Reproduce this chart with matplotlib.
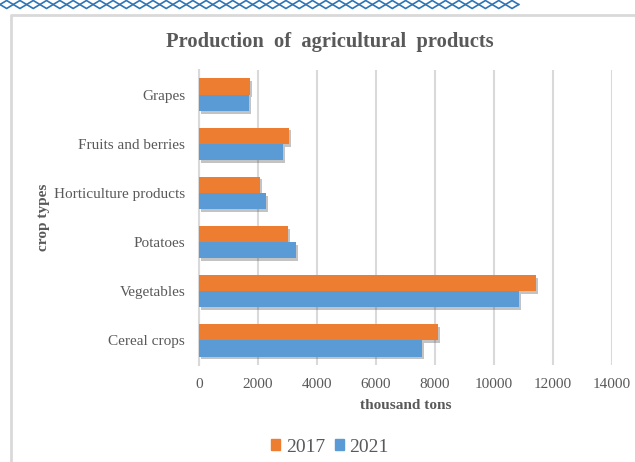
import numpy as np
import matplotlib
matplotlib.use('Agg')
import matplotlib.pyplot as plt
from matplotlib.patches import Patch
import matplotlib.patheffects as pe

# Data
crops = ['Cereal crops', 'Vegetables', 'Potatoes', 'Horticulture products',
         'Fruits and berries', 'Grapes']
y2017 = [8090, 11420, 3010, 2080, 3060, 1730]
y2021 = [7550, 10850, 3290, 2260, 2850, 1690]
xticks = [0, 2000, 4000, 6000, 8000, 10000, 12000, 14000]

plt.rcParams['font.family'] = ['Liberation Serif', 'DejaVu Serif']
text_col = '#595959'
grid_col = '#D9D9D9'
c2017 = '#ED7D31'
c2021 = '#5B9BD5'

fig = plt.figure(figsize=(6.35, 4.62), dpi=100)

# decoration: page border + diamond strip at the top
deco = fig.add_axes([0, 0, 1, 1])
deco.set_xlim(0, 635)
deco.set_ylim(462, 0)
deco.axis('off')
w = 13.3
n = 39
xs = np.arange(0, n * w + 0.1, w / 2)
top = np.where(np.arange(len(xs)) % 2 == 0, 4.5, 0.5)
bot = np.where(np.arange(len(xs)) % 2 == 0, 4.5, 8.5)
deco.plot(xs, top, color='#2E75B6', lw=1.2)
deco.plot(xs, bot, color='#2E75B6', lw=1.2)
deco.plot([11, 11, 635], [462, 15, 15], color=grid_col, lw=2)

ax = fig.add_axes([199 / 635, 97 / 462, 413 / 635, 295 / 462])
pos = np.arange(len(crops))
h = 0.33
shadow = [pe.SimplePatchShadow(offset=(1.5, -2), shadow_rgbFace='#555555', alpha=0.35), pe.Normal()]
b1 = ax.barh(pos + h / 2, y2017, height=h, color=c2017, zorder=3)
b2 = ax.barh(pos - h / 2, y2021, height=h, color=c2021, zorder=3)
for b in list(b1) + list(b2):
    b.set_path_effects(shadow)

ax.set_xlim(0, 14000)
ax.set_ylim(-0.5, len(crops) - 0.5)
ax.set_xticks(xticks)
ax.set_xticklabels([str(t) for t in xticks])
ax.set_yticks(pos)
ax.set_yticklabels(crops)
ax.tick_params(axis='both', length=0, labelsize=11, colors=text_col)
ax.tick_params(axis='x', pad=9)
ax.tick_params(axis='y', pad=10)
ax.grid(axis='x', color=grid_col, lw=1.5, zorder=0)
for s in ['top', 'right', 'bottom']:
    ax.spines[s].set_visible(False)
ax.spines['left'].set_color(grid_col)
ax.spines['left'].set_linewidth(1.5)

ax.set_xlabel('thousand tons', fontsize=11, fontweight='bold', color=text_col, labelpad=6)
ax.set_ylabel('crop types', fontsize=11, fontweight='bold', color=text_col, labelpad=3)

fig.text(0.519, 1 - 42 / 462, 'Production  of  agricultural  products', ha='center', va='center',
         fontsize=14.8, fontweight='bold', color=text_col)

handles = [Patch(color=c2017, label='2017'), Patch(color=c2021, label='2021')]
fig.legend(handles=handles, loc='center', bbox_to_anchor=(0.52, 15 / 462), ncol=2,
           frameon=False, fontsize=14, handlelength=0.45, handleheight=0.45,
           handletextpad=0.3, columnspacing=0.5, labelcolor=text_col)

fig.savefig('out.png', dpi=100)
